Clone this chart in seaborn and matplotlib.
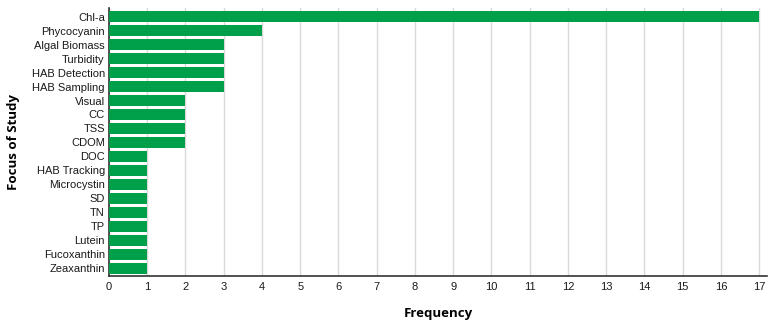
import matplotlib
matplotlib.use("Agg")
import matplotlib.pyplot as plt
import seaborn as sns
import pandas as pd

categories = ["Chl-a", "Phycocyanin", "Algal Biomass", "Turbidity", "HAB Detection",
              "HAB Sampling", "Visual", "CC", "TSS", "CDOM", "DOC", "HAB Tracking",
              "Microcystin", "SD", "TN", "TP", "Lutein", "Fucoxanthin", "Zeaxanthin"]
frequency = [17, 4, 3, 3, 3, 3, 2, 2, 2, 2, 1, 1, 1, 1, 1, 1, 1, 1, 1]
xticks = list(range(0, 18))

df = pd.DataFrame({"Focus": categories, "Frequency": frequency})

sns.set_theme(style="white")
plt.rcParams['font.family'] = ['Liberation Sans', 'DejaVu Sans']

fig = plt.figure(figsize=(7.73, 3.26), dpi=100)
ax = fig.add_axes([0.141, 0.153, 0.851, 0.822])
sns.barplot(data=df, y="Focus", x="Frequency", color="#00A04B", saturation=1,
            width=0.84, linewidth=0, ax=ax, zorder=3)
ax.set_xlim(0, 17.2)
ax.set_ylim(len(categories) - 0.45, -0.6)
ax.set_xticks(xticks)
ax.set_xticklabels([str(t) for t in xticks], fontsize=8, color="#1a1a1a")
ax.tick_params(axis="y", labelsize=8, length=0, pad=3, colors="#1a1a1a")
ax.tick_params(axis="x", length=0, pad=4)
ax.grid(axis="x", color="#d9d9d9", linewidth=1, zorder=0)
ax.set_axisbelow(True)
for s in ["top", "right"]:
    ax.spines[s].set_visible(False)
for s in ["left", "bottom"]:
    ax.spines[s].set_color("#333333")
    ax.spines[s].set_linewidth(1.2)
ax.set_xlabel("Frequency", fontsize=9.5, fontweight="bold", color="black",
              family=["Open Sans", "DejaVu Sans"], labelpad=11)
ax.set_ylabel("Focus of Study", fontsize=9.5, fontweight="bold", color="black",
              family=["Open Sans", "DejaVu Sans"], labelpad=8)
fig.savefig("out.png", dpi=100)
